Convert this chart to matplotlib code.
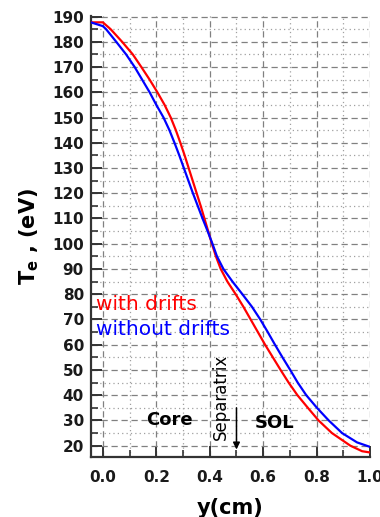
import matplotlib
matplotlib.use("Agg")
import matplotlib.pyplot as plt
from matplotlib.ticker import MultipleLocator

plt.rcParams['font.family'] = ['DejaVu Sans']
plt.rcParams['mathtext.fontset'] = 'dejavusans'

# electron temperature profiles across the edge, with / without drifts
y_drift = [-0.045, 0.0, 0.029, 0.072, 0.112, 0.144, 0.175, 0.204, 0.231, 0.254,
           0.273, 0.290, 0.306, 0.321, 0.336, 0.351, 0.366, 0.380, 0.394, 0.408,
           0.423, 0.441, 0.466, 0.497, 0.526, 0.553, 0.580, 0.607, 0.636, 0.665,
           0.695, 0.728, 0.767, 0.807, 0.857, 0.926, 0.97, 1.0]
te_drift = [187.7, 187.7, 185, 180, 175, 170, 165, 160, 155, 150,
            145, 140, 135, 130, 125, 120, 115, 110, 105, 100,
            95, 90, 85, 80, 75, 70, 65, 60, 55, 50,
            45, 40, 35, 30, 25, 20, 17.8, 17.3]

y_nodrift = [-0.045, 0.0, 0.012, 0.05, 0.087, 0.119, 0.147, 0.175, 0.2, 0.227,
             0.249, 0.268, 0.286, 0.303, 0.320, 0.337, 0.355, 0.373, 0.392, 0.41,
             0.427, 0.451, 0.485, 0.522, 0.558, 0.589, 0.617, 0.644, 0.672, 0.701,
             0.729, 0.761, 0.801, 0.845, 0.895, 0.951, 1.0]
te_nodrift = [187.7, 186.2, 185, 180, 175, 170, 165, 160, 155, 150,
              145, 140, 135, 130, 125, 120, 115, 110, 105, 100,
              95, 90, 85, 80, 75, 70, 65, 60, 55, 50,
              45, 40, 35, 30, 25, 21.3, 19.5]

xticks = [0.0, 0.2, 0.4, 0.6, 0.8, 1.0]
yticks = list(range(20, 200, 10))
separatrix = 0.5

fig = plt.figure(figsize=(3.8, 5.17), dpi=100)
ax = fig.add_axes([0.239, 0.116, 0.735, 0.853])

ax.plot(y_drift, te_drift, color='red', lw=1.6, zorder=3)
ax.plot(y_nodrift, te_nodrift, color='blue', lw=1.6, zorder=3)

ax.set_xlim(-0.045, 1.0)
ax.set_ylim(15.5, 190.2)
ax.set_xticks(xticks)
ax.set_xticklabels(['%.1f' % v for v in xticks])
ax.set_yticks(yticks)
ax.xaxis.set_minor_locator(MultipleLocator(0.1))
ax.yaxis.set_minor_locator(MultipleLocator(5))

ax.grid(which='major', color='#808080', ls=(0, (5, 3)), lw=0.9)
ax.grid(which='minor', color='#a0a0a0', ls=(0, (1, 2.5)), lw=0.9)

for s in ['top', 'right']:
    ax.spines[s].set_visible(False)
for s in ['left', 'bottom']:
    ax.spines[s].set_linewidth(1.6)
    ax.spines[s].set_color('#333333')

ax.tick_params(which='major', direction='in', length=8, width=1.4, color='#333333')
ax.tick_params(which='minor', direction='in', length=5, width=1.2, color='#333333')
ax.tick_params(axis='y', which='major', pad=5)
ax.tick_params(axis='x', which='major', pad=9)
for lab in ax.get_xticklabels() + ax.get_yticklabels():
    lab.set_fontsize(11)
    lab.set_fontweight('bold')
    lab.set_color('#1a1a1a')

ax.set_xlabel('y(cm)', fontsize=15, fontweight='bold', labelpad=10)
ax.set_ylabel(r'$\mathbf{T_e}$ , (eV)', fontsize=15, fontweight='bold', labelpad=8)

ax.text(-0.026, 75.8, 'with drifts', color='red', fontsize=14.5, ha='left', va='center')
ax.text(-0.026, 65.9, 'without drifts', color='blue', fontsize=14.5, ha='left', va='center')

ax.text(0.248, 30, 'Core', fontsize=13, fontweight='bold', ha='center', va='center')
ax.text(0.642, 29, 'SOL', fontsize=13, fontweight='bold', ha='center', va='center')
ax.text(0.44, 39.2, 'Separatrix', fontsize=12, rotation=90, ha='center', va='center')
ax.annotate('', xy=(separatrix, 18.5), xytext=(separatrix, 35),
            arrowprops=dict(arrowstyle='-|>', color='black', lw=1.1,
                            mutation_scale=10, shrinkA=0, shrinkB=0))

fig.savefig('out.png', dpi=100)
